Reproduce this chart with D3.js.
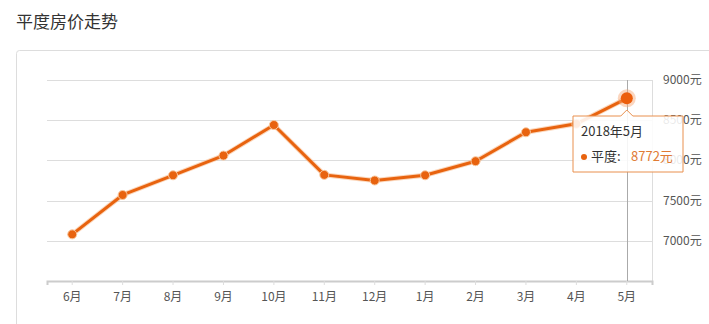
<!DOCTYPE html>
<html>
<head>
<meta charset="utf-8">
<script src="https://cdn.jsdelivr.net/npm/d3@7"></script>
<style>
  body { margin: 0; background: #fff; font-family: "Noto Sans CJK SC", "Noto Sans", sans-serif; }
  svg { display: block; }
</style>
</head>
<body>
<svg id="chart" width="709" height="324"></svg>
<script>
// data
const months = ['6月', '7月', '8月', '9月', '10月', '11月', '12月', '1月', '2月', '3月', '4月', '5月'];
const prices = [7080, 7570, 7815, 8060, 8440, 7820, 7750, 7815, 7990, 8350, 8455, 8772];
const yTicks = [7000, 7500, 8000, 8500, 9000];
const title = '平度房价走势';
const tipTitle = '2018年5月';
const seriesName = '平度';

const svg = d3.select('#chart');
const lineColor = '#e8630f';

// title and card
svg.append('text')
  .attr('x', 16)
  .attr('y', 28)
  .attr('font-size', 17)
  .attr('fill', '#333')
  .text(title);

svg.append('rect')
  .attr('x', 16.5)
  .attr('y', 50.5)
  .attr('width', 720)
  .attr('height', 300)
  .attr('rx', 3)
  .attr('fill', '#fff')
  .attr('stroke', '#ddd');

const left = 47;
const right = 652;
const x = d3.scaleBand().domain(months).range([left, right]);
const y = d3.scaleLinear().domain([6500, 9000]).range([281, 80]);
const cx = (m) => x(m) + x.bandwidth() / 2;

// grid lines
svg.append('g')
  .selectAll('line')
  .data(yTicks)
  .join('line')
  .attr('x1', left)
  .attr('x2', right)
  .attr('y1', (d) => Math.round(y(d)) + 0.5)
  .attr('y2', (d) => Math.round(y(d)) + 0.5)
  .attr('stroke', '#ddd');

svg.append('line')
  .attr('x1', right + 0.5)
  .attr('x2', right + 0.5)
  .attr('y1', y(9000))
  .attr('y2', y(6500))
  .attr('stroke', '#ddd');

// y labels on the right
svg.append('g')
  .selectAll('text')
  .data(yTicks)
  .join('text')
  .attr('x', 663)
  .attr('y', (d) => y(d) + 4)
  .attr('font-size', 12)
  .attr('fill', '#555')
  .text((d) => `${d}元`);

// x axis
const xAxis = svg.append('g')
  .attr('transform', `translate(0,${y(6500)})`)
  .call(d3.axisBottom(x).tickSize(4).tickPadding(7));
xAxis.select('.domain').attr('stroke', '#ccc').attr('stroke-width', 2);
xAxis.selectAll('.tick line').attr('stroke', '#ddd');
xAxis.selectAll('.tick text')
  .attr('font-size', 12)
  .attr('fill', '#555')
  .attr('font-family', '"Noto Sans CJK SC", sans-serif');

// crosshair on last month
const last = months.length - 1;
svg.append('line')
  .attr('x1', Math.round(cx(months[last])) + 0.5)
  .attr('x2', Math.round(cx(months[last])) + 0.5)
  .attr('y1', y(9000))
  .attr('y2', y(6500))
  .attr('stroke', '#aaa');

// line
const line = d3.line()
  .x((d, i) => cx(months[i]))
  .y((d) => y(d));

svg.append('path')
  .datum(prices)
  .attr('fill', 'none')
  .attr('stroke', '#f7b07a')
  .attr('stroke-width', 5)
  .attr('stroke-opacity', 0.5)
  .attr('d', line);

svg.append('path')
  .datum(prices)
  .attr('fill', 'none')
  .attr('stroke', lineColor)
  .attr('stroke-width', 3)
  .attr('stroke-linejoin', 'round')
  .attr('d', line);

svg.append('g')
  .selectAll('circle')
  .data(prices.slice(0, last))
  .join('circle')
  .attr('cx', (d, i) => cx(months[i]))
  .attr('cy', (d) => y(d))
  .attr('r', 4.5)
  .attr('fill', lineColor)
  .attr('stroke', '#f9c9a0')
  .attr('stroke-width', 1);

// highlighted point
svg.append('circle')
  .attr('cx', cx(months[last]))
  .attr('cy', y(prices[last]))
  .attr('r', 9)
  .attr('fill', '#f6a472')
  .attr('fill-opacity', 0.45);
svg.append('circle')
  .attr('cx', cx(months[last]))
  .attr('cy', y(prices[last]))
  .attr('r', 6)
  .attr('fill', '#ec5e0c');

// tooltip
const tx = 573;
const ty = 116;
const tw = 110;
const th = 56;
const ax = cx(months[last]);
const tip = svg.append('g');
tip.append('path')
  .attr('d', `M${tx},${ty} H${ax - 6} L${ax},${ty - 6} L${ax + 6},${ty} H${tx + tw} V${ty + th} H${tx} Z`)
  .attr('fill', '#fff')
  .attr('fill-opacity', 0.88)
  .attr('stroke', '#e9904f')
  .attr('stroke-width', 1);
tip.append('text')
  .attr('x', tx + 8)
  .attr('y', ty + 20)
  .attr('font-size', 13)
  .attr('fill', '#333')
  .text(tipTitle);
tip.append('circle')
  .attr('cx', tx + 11)
  .attr('cy', ty + 41)
  .attr('r', 3)
  .attr('fill', lineColor);
tip.append('text')
  .attr('x', tx + 18)
  .attr('y', ty + 45)
  .attr('font-size', 13)
  .attr('fill', '#333')
  .text(`${seriesName}:`);
tip.append('text')
  .attr('x', tx + 58)
  .attr('y', ty + 45)
  .attr('font-size', 13)
  .attr('fill', '#e07b35')
  .text(`${prices[last]}元`);
</script>
</body>
</html>
